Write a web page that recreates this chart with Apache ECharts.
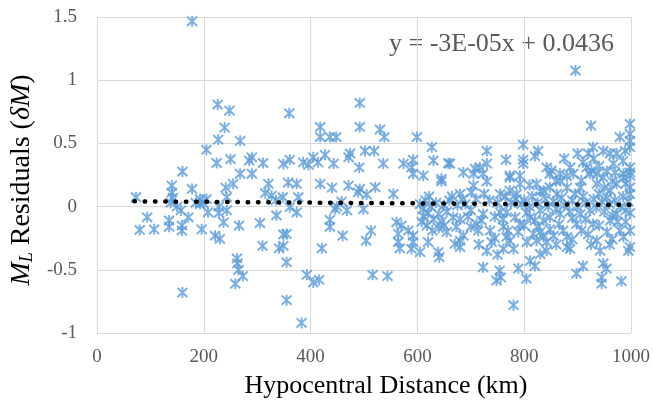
<!DOCTYPE html>
<html><head><meta charset="utf-8">
<script src="https://cdn.jsdelivr.net/npm/echarts@6/dist/echarts.min.js"></script>
<style>html,body{margin:0;padding:0;background:#fff}#c{width:653px;height:414px}</style>
</head><body><div id="c"></div>
<script>
// Residual points [distance km, residual]
const leftPoints = [[178,1.466],[226,0.807],[248,0.76],[360,0.738],[239,0.625],[227,0.53],[268,0.52],[205,0.45],[224,0.345],[250,0.375],[285,0.364],[290,0.39],[311,0.345],[349,0.338],[361,0.37],[160,0.277],[268,0.26],[290,0.26],[255,0.18],[241,0.15],[140,0.166],[178,0.14],[321,0.18],[315,0.108],[327,0.087],[348,0.074],[358,0.19],[73,0.074],[140,0.11],[142,0.07],[138,0.03],[193,0.06],[205,0.06],[193,0.02],[198,0.03],[243,0.074],[228,0.0],[243,-0.03],[228,-0.05],[208,-0.045],[157,-0.03],[171,-0.085],[94,-0.085],[135,-0.11],[135,-0.16],[80,-0.185],[107,-0.18],[159,-0.15],[159,-0.19],[196,-0.18],[237,-0.124],[266,-0.15],[305,-0.13],[336,-0.07],[349,-0.22],[221,-0.23],[230,-0.255],[310,-0.31],[341,-0.33],[355,-0.44],[262,-0.41],[263,-0.45],[265,-0.5],[273,-0.55],[259,-0.61],[160,-0.68],[355,-0.74],[150,0.0],[185,0.03],[335,0.05]];
const midPoints = [[492,0.82],[492,0.63],[418,0.63],[418,0.55],[436,0.55],[448,0.55],[530,0.61],[538,0.55],[599,0.55],[627,0.47],[630,0.364],[658,0.343],[386,0.35],[396,0.33],[405,0.39],[414,0.35],[427,0.41],[443,0.34],[471,0.39],[474,0.42],[491,0.31],[502,0.44],[519,0.44],[536,0.34],[574,0.34],[592,0.37],[589,0.31],[592,0.26],[611,0.245],[645,0.22],[374,0.18],[377,0.074],[361,-0.005],[374,-0.045],[418,0.18],[440,0.15],[471,0.166],[492,0.14],[489,0.113],[505,0.095],[521,0.153],[555,0.1],[645,0.2],[458,0.04],[449,0.0],[446,-0.02],[468,-0.03],[499,-0.02],[436,-0.105],[436,-0.16],[460,-0.23],[421,-0.33],[513,-0.19],[504,-0.27],[561,-0.124],[570,-0.15],[583,-0.19],[564,-0.216],[592,-0.23],[564,-0.28],[567,-0.33],[592,-0.28],[589,-0.335],[605,-0.36],[620,-0.28],[639,-0.36],[641,-0.4],[355,-0.216],[349,-0.31],[383,-0.92],[393,-0.54],[405,-0.6],[416,-0.58],[516,-0.54],[544,-0.55],[605,0.02],[610,-0.02],[615,0.05],[620,-0.05],[612,-0.08],[625,0.0],[630,-0.1],[635,0.03],[640,-0.06],[645,-0.12],[650,0.01],[655,-0.04],[608,-0.12],[618,-0.15],[628,-0.19],[622,0.08],[650,-0.15],[660,0.05],[655,-0.2],[640,-0.17]];
const rightPoints = [[896,1.076],[925,0.64],[998,0.654],[979,0.55],[998,0.575],[998,0.52],[798,0.49],[730,0.44],[826,0.44],[820,0.40],[929,0.47],[920,0.42],[948,0.44],[961,0.42],[973,0.42],[989,0.44],[998,0.47],[766,0.37],[798,0.37],[798,0.34],[730,0.34],[717,0.31],[708,0.3],[686,0.27],[723,0.26],[661,0.34],[842,0.31],[851,0.285],[848,0.26],[867,0.26],[886,0.31],[892,0.26],[917,0.31],[926,0.285],[936,0.26],[967,0.34],[970,0.27],[986,0.26],[998,0.31],[998,0.27],[773,0.245],[792,0.245],[705,0.26],[730,0.2],[705,0.166],[701,0.113],[680,0.1],[773,0.23],[792,0.18],[773,0.127],[755,0.1],[786,0.1],[823,0.18],[836,0.127],[848,0.153],[861,0.1],[867,0.206],[907,0.206],[923,0.26],[936,0.18],[948,0.23],[961,0.127],[973,0.18],[986,0.23],[998,0.245],[998,0.153],
[667,-0.085],[680,-0.1],[673,-0.16],[686,-0.23],[680,-0.27],[670,-0.295],[680,-0.32],[711,-0.137],[720,-0.11],[714,-0.19],[723,-0.058],[736,-0.19],[739,-0.28],[723,-0.48],[754,-0.506],[756,-0.56],[748,-0.585],[789,-0.49],[804,-0.57],[780,-0.78],[761,-0.16],[770,-0.19],[767,-0.24],[773,-0.27],[761,-0.335],[780,-0.335],[789,-0.2],[792,-0.137],[783,-0.085],[767,-0.045],[755,-0.045],[811,-0.43],[820,-0.47],[830,-0.375],[842,-0.35],[823,-0.27],[836,-0.24],[817,-0.216],[826,-0.16],[820,-0.11],[836,-0.11],[848,-0.085],[811,-0.085],[848,-0.18],[855,-0.23],[842,-0.28],[867,-0.058],[873,-0.19],[880,-0.32],[886,-0.335],[898,-0.137],[907,-0.19],[898,-0.53],[910,-0.47],[880,-0.24],[936,-0.27],[942,-0.35],[948,-0.45],[954,-0.49],[945,-0.56],[945,-0.61],[982,-0.59],[923,-0.03],[929,-0.137],[961,-0.11],[973,-0.058],[979,-0.19],[986,-0.24],[998,-0.19],[998,-0.32],[995,-0.35],
[800,0.05],[810,0.0],[815,0.08],[825,0.03],[830,-0.03],[840,0.06],[845,0.0],[855,0.04],[860,-0.02],[870,0.07],[875,0.01],[885,-0.04],[890,0.05],[895,0.1],[900,0.0],[905,-0.06],[910,0.08],[915,0.03],[930,0.06],[935,-0.01],[940,0.1],[945,0.04],[950,-0.04],[955,0.07],[960,0.02],[965,-0.07],[970,0.05],[980,0.0],[985,0.08],[990,-0.03],[995,0.04],[998,0.1],[998,-0.05],[950,0.15],[940,-0.15],[955,-0.2],[965,-0.26],[915,-0.1],[890,-0.09],[905,0.15],[880,0.15],[860,0.2],[830,0.12],[810,0.17],[805,-0.05],[795,0.02],[785,0.06],[775,0.03],[765,0.08],[750,0.03],[745,-0.08],[735,0.05],[725,0.1],[710,0.06],[700,-0.03],[690,0.02],[695,-0.08],[685,0.06],[675,0.01],[665,0.08],[700,-0.16],[745,-0.25],[760,-0.1],[730,-0.35],[750,-0.38],[715,-0.3],[800,-0.15],[805,-0.28],[830,-0.2],[860,-0.3],[865,-0.14],[890,-0.26],[920,-0.22],[925,-0.3],[960,-0.3],[975,-0.12],[990,-0.12],[910,0.35],[940,0.32],[955,0.28],[880,0.24],[900,0.42],[930,0.38],[985,0.36],[965,0.2],[990,0.18],[875,0.38]];
// Linear trendline y = -3E-05x + 0.0436 endpoints
const trendX = [70, 1000];
const trendY = [0.0415, 0.0136];
const xTicks = [0, 200, 400, 600, 800, 1000];
const yTicks = [-1, -0.5, 0, 0.5, 1, 1.5];
const equationText = 'y = -3E-05x + 0.0436';

const points = leftPoints.concat(midPoints, rightPoints);
const font = '"Liberation Serif", "Times New Roman", serif';
const grey = '#595959';
const gridCol = '#d9d9d9';

const chart = echarts.init(document.getElementById('c'), null, {renderer: 'canvas'});
chart.setOption({
  animation: false,
  backgroundColor: '#fff',
  grid: {left: 97, top: 17, right: 22, bottom: 81},
  xAxis: {
    type: 'value', min: xTicks[0], max: xTicks[xTicks.length-1], interval: 200,
    axisLine: {show: true, lineStyle: {color: gridCol, width: 1}},
    axisTick: {show: false},
    splitLine: {show: true, lineStyle: {color: gridCol, width: 1}},
    axisLabel: {color: grey, fontFamily: font, fontSize: 19, margin: 15, formatter: v => String(v)},
    name: 'Hypocentral Distance (km)', nameLocation: 'middle', nameGap: 40,
    nameTextStyle: {color: '#000', fontFamily: font, fontSize: 26, padding: [0, 0, 0, 44]}
  },
  yAxis: {
    type: 'value', min: yTicks[0], max: yTicks[yTicks.length-1], interval: 0.5,
    axisLine: {show: true, lineStyle: {color: gridCol, width: 1}},
    axisTick: {show: false},
    splitLine: {show: true, lineStyle: {color: gridCol, width: 1}},
    axisLabel: {color: grey, fontFamily: font, fontSize: 19, margin: 20, formatter: v => String(v)},
    name: '{i|M}{s|L} Residuals ({i|δM})', nameLocation: 'middle', nameGap: 47, nameRotate: 90,
    nameTextStyle: {color: '#000', fontFamily: font, fontSize: 28, padding: [0, 10, 0, 0],
      rich: {
        i: {fontFamily: font, fontSize: 28, fontStyle: 'italic', color: '#000'},
        s: {fontFamily: font, fontSize: 18, fontStyle: 'italic', color: '#000', verticalAlign: 'bottom', padding: [10, 0, 0, 0]}
      }}
  },
  graphic: [{
    type: 'text', left: 389, top: 31,
    style: {text: equationText, font: '26px ' + font, fill: grey}
  }],
  series: [{
    type: 'scatter',
    data: points,
    symbol: 'path://M0,1L10,11M0,11L10,1M5,0L5,12',
    symbolSize: [10, 11],
    itemStyle: {color: 'rgba(0,0,0,0)', borderColor: '#5B9BD5', borderWidth: 2},
    z: 2
  }, {
    type: 'line',
    data: trendX.map((x, i) => [x, trendY[i]]),
    symbol: 'none',
    lineStyle: {color: '#000', width: 4.5, type: [0.5, 9.8], cap: 'round'},
    z: 5
  }]
});
</script></body></html>
